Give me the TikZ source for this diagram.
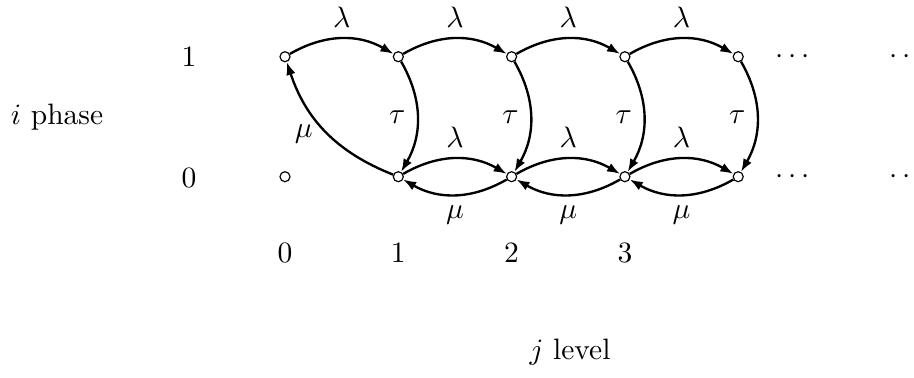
\documentclass[tikz,border=0pt]{standalone}
\usetikzlibrary{arrows.meta}
\begin{document}
\begin{tikzpicture}[x=0.339pt,y=-0.339pt,
  st/.style={circle,draw,line width=0.4pt,minimum size=3.4pt,inner sep=0pt},
  lbl/.style={inner sep=0pt},
  tr/.style={line width=0.8pt,-{Latex[length=4.4pt,width=3.2pt]}},
  bl/.style={tr,bend left=30}]
\useasboundingbox (0,0) rectangle (914,377);
% states
\foreach \k in {0,...,4}{
  \node[st] (t\k) at (285+113.3*\k,56.7) {};
}
\foreach \k in {0,...,4}{
  \node[st] (b\k) at (285+113.3*\k,176.7) {};
}
% dots
\node[lbl] (dt1) at (793,56.7) {$\cdots$};
\node[lbl] (dt2) at (907,56.7) {$\cdots$};
\node[lbl] (db1) at (793,176.7) {$\cdots$};
\node[lbl] (db2) at (907,176.7) {$\cdots$};
% axis labels
\node[lbl] (r1) at (189,56.7) {1};
\node[lbl] (r0) at (189,178) {0};
\node[lbl] (c0) at (285,253) {0};
\node[lbl] (c1) at (398.3,253) {1};
\node[lbl] (c2) at (511.6,253) {2};
\node[lbl] (c3) at (625,253) {3};
\node[lbl] (ip) at (57,117) {$i$ phase};
\node[lbl] (jl) at (570,352) {$j$ level};
% top lambda
\foreach \a/\b in {0/1,1/2,2/3,3/4}{
  \draw[bl] (t\a) to node[above] {$\lambda$} (t\b);
}
% tau
\foreach \a in {1,2,3,4}{
  \draw[bl] (t\a) to node[left=0.3pt] {$\tau$} (b\a);
}
% bottom lambda and mu
\foreach \a/\b in {1/2,2/3,3/4}{
  \draw[bl] (b\a) to node[above] {$\lambda$} (b\b);
  \draw[bl] (b\b) to node[below] {$\mu$} (b\a);
}
% mu from level 1 to level 0
\draw[tr,bend left=25] (b1) to node[left=1.5pt,pos=0.48] {$\mu$} (t0);
\end{tikzpicture}
\end{document}
